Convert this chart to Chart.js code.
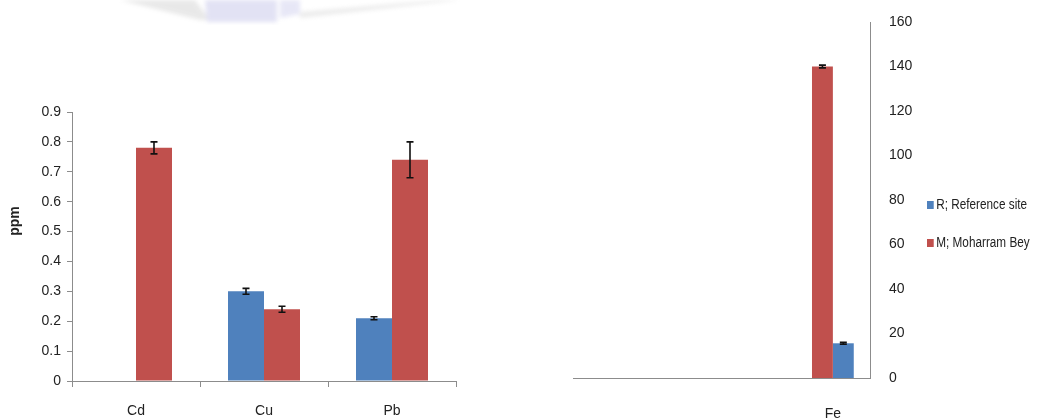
<!DOCTYPE html>
<html>
<head>
<meta charset="utf-8">
<script src="https://cdn.jsdelivr.net/npm/chart.js@4/dist/chart.umd.min.js"></script>
<style>
  html, body { margin: 0; padding: 0; background: #fff; }
  #wrap { position: relative; width: 1041px; height: 418px; overflow: hidden; background: #fff; }
  #left { position: absolute; left: 0; top: 0; }
  #right { position: absolute; left: 560px; top: 0; }
  #banner { position: absolute; left: 0; top: 0; }
  #legend { position: absolute; left: 927px; top: 194px; font-family: 'Liberation Sans', Arial, sans-serif; font-size: 14px; color: #222; transform: scaleX(0.84); transform-origin: 0 0; }
  #legend div { height: 38px; line-height: 20px; white-space: nowrap; }
  #legend span.sw { display: inline-block; width: 8px; height: 8px; margin-right: 3px; vertical-align: 0px; }
</style>
</head>
<body>
<div id="wrap">
  <svg id="banner" width="1041" height="30">
    <defs><filter id="soft"><feGaussianBlur stdDeviation="2"/></filter></defs>
    <g filter="url(#soft)" opacity="0.4">
      <polygon points="120,0 195,0 210,20 200,20" fill="#c8c8c8"/>
      <polygon points="300,12 440,0 460,0 300,18" fill="#cfcfcf"/>
      <polygon points="205,0 277,0 277,22 207,22" fill="#b8b8e4"/>
      <polygon points="280,0 300,0 300,14 280,18" fill="#c4c4ea"/>
    </g>
  </svg>
  <canvas id="left" width="470" height="418"></canvas>
  <canvas id="right" width="360" height="418"></canvas>
  <div id="legend">
    <div><span class="sw" style="background:#4F81BD"></span>R; Reference site</div>
    <div><span class="sw" style="background:#C0504D"></span>M; Moharram Bey</div>
  </div>
</div>
<script>
// Metals measured at both sites (mean ± SD, ppm)
const metals = ['Cd', 'Cu', 'Pb', 'Fe'];
const refMean = [0, 0.30, 0.21, 15.6];
const refErr  = [0, 0.01, 0.005, 0.4];
const mohMean = [0.78, 0.24, 0.74, 140];
const mohErr  = [0.02, 0.01, 0.06, 0.6];
const leftTicks = [0, 0.1, 0.2, 0.3, 0.4, 0.5, 0.6, 0.7, 0.8, 0.9];
const rightTicks = [0, 20, 40, 60, 80, 100, 120, 140, 160];

const BLUE = '#4F81BD';
const RED = '#C0504D';
const AXIS = '#8c8c8c';
const FONT = "'Liberation Sans', Arial, sans-serif";

// Draws mean ± SD whiskers on top of each bar
const errorBars = {
  id: 'errorBars',
  afterDatasetsDraw(chart) {
    const ctx = chart.ctx;
    const y = chart.scales.y;
    chart.data.datasets.forEach((ds, di) => {
      const meta = chart.getDatasetMeta(di);
      meta.data.forEach((bar, i) => {
        const v = ds.data[i], e = ds.errors[i];
        if (v == null || !e) return;
        const top = y.getPixelForValue(v + e);
        const bot = y.getPixelForValue(v - e);
        const x = bar.x;
        ctx.save();
        ctx.strokeStyle = '#111';
        ctx.lineWidth = 1.6;
        ctx.beginPath();
        ctx.moveTo(x, top); ctx.lineTo(x, bot);
        ctx.moveTo(x - 3.5, top); ctx.lineTo(x + 3.5, top);
        ctx.moveTo(x - 3.5, bot); ctx.lineTo(x + 3.5, bot);
        ctx.stroke();
        ctx.restore();
      });
    });
  }
};

// Rotated unit label beside the left axis
const unitLabel = {
  id: 'unitLabel',
  afterDraw(chart) {
    const ctx = chart.ctx;
    ctx.save();
    ctx.translate(15, 221);
    ctx.rotate(-Math.PI / 2);
    ctx.font = "bold 14px 'Liberation Sans', Arial, sans-serif";
    ctx.fillStyle = '#222';
    ctx.textAlign = 'center';
    ctx.textBaseline = 'middle';
    ctx.fillText('ppm', 0, 0);
    ctx.restore();
  }
};

Chart.defaults.animation = false;
Chart.defaults.font.family = FONT;
Chart.defaults.color = '#222';

new Chart(document.getElementById('left'), {
  type: 'bar',
  data: {
    labels: metals.slice(0, 3),
    datasets: [
      { label: 'R; Reference site', data: refMean.slice(0, 3), errors: refErr.slice(0, 3), backgroundColor: BLUE },
      { label: 'M; Moharram Bey', data: mohMean.slice(0, 3), errors: mohErr.slice(0, 3), backgroundColor: RED }
    ]
  },
  options: {
    responsive: false,
    layout: { padding: { left: 0, top: 112, right: 14, bottom: 0 } },
    plugins: { legend: { display: false }, tooltip: { enabled: false } },
    datasets: { bar: { categoryPercentage: 0.5625, barPercentage: 1 } },
    scales: {
      x: {
        grid: { display: true, drawOnChartArea: false, drawTicks: true, tickLength: 6, color: AXIS, offset: true },
        border: { display: true, color: AXIS, width: 1 },
        ticks: { padding: 16, font: { size: 14 } },
        afterFit(s) { s.height = 37; }
      },
      y: {
        min: 0, max: 0.9,
        afterBuildTicks(s) { s.ticks = leftTicks.map(v => ({ value: v })); },
        grid: { display: true, drawOnChartArea: false, drawTicks: true, tickLength: 5, color: AXIS },
        border: { display: true, color: AXIS, width: 1 },
        ticks: { padding: 6, font: { size: 14 }, callback: v => String(v) },
        afterFit(s) { s.width = 72; }
      }
    }
  },
  plugins: [errorBars, unitLabel]
});

new Chart(document.getElementById('right'), {
  type: 'bar',
  data: {
    labels: metals,
    datasets: [
      { label: 'M; Moharram Bey', data: [null, null, null, mohMean[3]], errors: [0, 0, 0, mohErr[3]], backgroundColor: RED },
      { label: 'R; Reference site', data: [null, null, null, refMean[3]], errors: [0, 0, 0, refErr[3]], backgroundColor: BLUE }
    ]
  },
  options: {
    responsive: false,
    layout: { padding: { left: 13, top: 22, right: 0, bottom: 0 } },
    plugins: { legend: { display: false }, tooltip: { enabled: false } },
    datasets: { bar: { categoryPercentage: 0.5625, barPercentage: 1 } },
    scales: {
      x: {
        grid: { display: false },
        border: { display: true, color: AXIS, width: 1 },
        ticks: { padding: 20, font: { size: 14 }, callback: (v, i) => (metals[i] === 'Fe' ? 'Fe' : '') },
        afterFit(s) { s.height = 40; }
      },
      y: {
        position: 'right',
        min: 0, max: 160,
        afterBuildTicks(s) { s.ticks = rightTicks.map(v => ({ value: v })); },
        grid: { display: false },
        border: { display: true, color: AXIS, width: 1 },
        ticks: { padding: 11, font: { size: 14 } },
        afterFit(s) { s.width = 50; }
      }
    }
  },
  plugins: [errorBars]
});
</script>
</body>
</html>
